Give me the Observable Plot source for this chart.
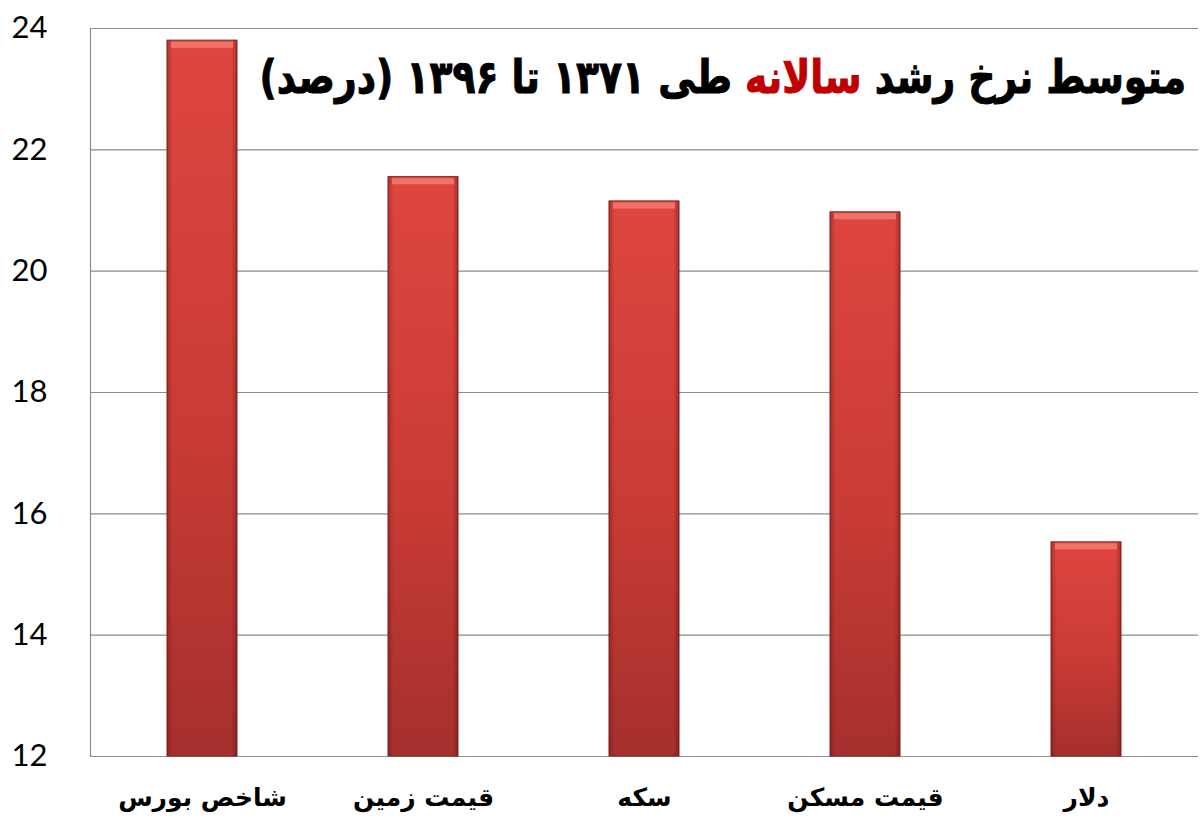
<!DOCTYPE html>
<html>
<head>
<meta charset="utf-8">
<script src="https://cdn.jsdelivr.net/npm/d3@7"></script>
<script src="https://cdn.jsdelivr.net/npm/@observablehq/plot@0.6"></script>
<style>
  html, body { margin: 0; padding: 0; background: #fff; }
  #wrap { position: relative; width: 1200px; height: 839px; }
  #title {
    position: absolute; right: 14px; top: 50px;
    direction: rtl; white-space: nowrap;
    font-family: "DejaVu Sans", sans-serif; font-weight: bold; font-size: 46px;
    color: #000; transform: scaleX(0.82); transform-origin: right center;
    -webkit-text-stroke: 1px #000;
  }
  #title .red { color: #c00000; -webkit-text-stroke: 1px #c00000; }
</style>
</head>
<body>
<div id="wrap">
  <div id="chart"></div>
  <div id="title">متوسط نرخ رشد <span class="red">سالانه</span> طی ۱۳۷۱ تا ۱۳۹۶ (درصد)</div>
</div>
<script>
const categories = ["شاخص بورس", "قیمت زمین", "سکه", "قیمت مسکن", "دلار"];
const values = [23.8, 21.55, 21.15, 20.97, 15.53];
const yTicks = [12, 14, 16, 18, 20, 22, 24];

const data = categories.map((c, i) => ({ category: c, value: values[i] }));

function defs() {
  const svg = d3.create("svg:g");
  const d = svg.append("defs");
  const gv = d.append("linearGradient").attr("id", "barV").attr("x1", 0).attr("y1", 0).attr("x2", 0).attr("y2", 1);
  gv.append("stop").attr("offset", "0%").attr("stop-color", "#de463f");
  gv.append("stop").attr("offset", "55%").attr("stop-color", "#c93b36");
  gv.append("stop").attr("offset", "100%").attr("stop-color", "#a5302d");
  const gh = d.append("linearGradient").attr("id", "barH").attr("x1", 0).attr("y1", 0).attr("x2", 1).attr("y2", 0);
  gh.append("stop").attr("offset", "0%").attr("stop-color", "#5a0f0c").attr("stop-opacity", 0.35);
  gh.append("stop").attr("offset", "8%").attr("stop-color", "#5a0f0c").attr("stop-opacity", 0);
  gh.append("stop").attr("offset", "92%").attr("stop-color", "#5a0f0c").attr("stop-opacity", 0);
  gh.append("stop").attr("offset", "100%").attr("stop-color", "#5a0f0c").attr("stop-opacity", 0.4);
  return svg.node();
}

function leftLine(index, scales, values, dims) {
  const g = d3.create("svg:line")
    .attr("x1", dims.marginLeft + 0.5).attr("x2", dims.marginLeft + 0.5)
    .attr("y1", dims.marginTop).attr("y2", dims.height - dims.marginBottom)
    .attr("stroke", "#8c8c8c").attr("stroke-width", 1.2);
  return g.node();
}

const chart = Plot.plot({
  width: 1200,
  height: 839,
  marginLeft: 90,
  marginRight: 2,
  marginTop: 28,
  marginBottom: 83,
  style: { background: "#fff", overflow: "visible" },
  x: { domain: categories, paddingInner: 0.685, paddingOuter: 0.3425, label: null },
  y: { domain: [12, 24], ticks: yTicks, label: null },
  marks: [
    defs,
    Plot.gridY(yTicks, { stroke: "#8c8c8c", strokeOpacity: 1, strokeWidth: 1.2 }),
    leftLine,
    Plot.barY(data, { x: "category", y1: 12, y2: "value", fill: "url(#barV)", stroke: "#7e2320", strokeWidth: 1 }),
    Plot.barY(data, { x: "category", y1: 12, y2: "value", fill: "url(#barH)" }),
    Plot.tickY(data, { x: "category", y: "value", stroke: "#f0736a", strokeWidth: 6, dy: 4, inset: 4 }),
    Plot.axisY(yTicks, { tickSize: 0, tickPadding: 43, fontSize: 31, fontFamily: "Lato", fill: "#000", textAnchor: "end", tickFormat: d => String(d) }),
    Plot.axisX({ tickSize: 0, tickPadding: 32, fontSize: 25, fontWeight: "bold", fontFamily: "DejaVu Sans", fill: "#000", stroke: "#000", strokeWidth: 0.6 })
  ]
});
document.getElementById("chart").appendChild(chart);
</script>
</body>
</html>
